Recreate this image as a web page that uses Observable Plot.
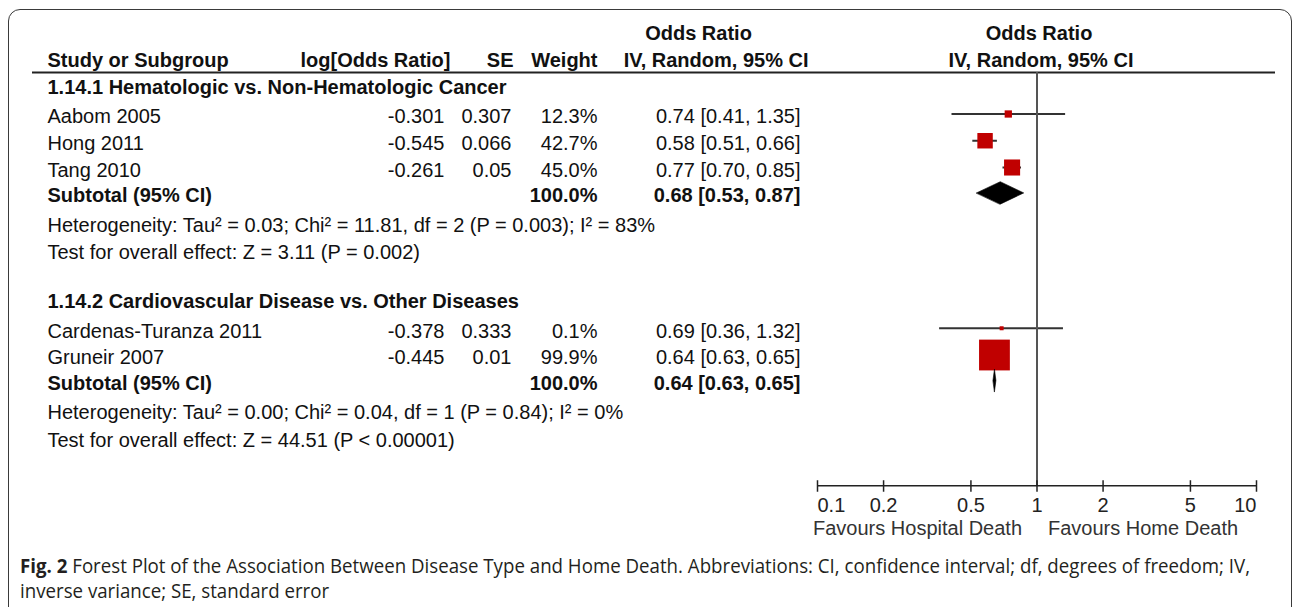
<!DOCTYPE html>
<html><head><meta charset="utf-8">
<script src="https://cdn.jsdelivr.net/npm/d3@7"></script>
<script src="https://cdn.jsdelivr.net/npm/@observablehq/plot@0.6"></script>
<style>
html,body{margin:0;padding:0;background:#fff;}
#wrap{position:relative;width:1292px;height:607px;overflow:hidden;background:#fff;}
#frame{position:absolute;left:8px;top:9px;width:1284px;height:700px;border:1.5px solid #3a3a3a;border-radius:12px;box-sizing:border-box;}
#chart{position:absolute;left:0;top:0;}
#caption{position:absolute;left:20px;top:553px;font-family:"Open Sans","DejaVu Sans",sans-serif;font-size:19.5px;line-height:25px;color:#231f20;white-space:nowrap;transform-origin:0 0;}
#caption b{font-weight:700;}
</style></head>
<body>
<div id="wrap"><div id="frame"></div><div id="chart"></div>
<div id="caption"><div id="cap1"></div><div id="cap2"></div></div></div>
<script>
// ---------- data ----------
const groupTitles = ["1.14.1 Hematologic vs. Non-Hematologic Cancer", "1.14.2 Cardiovascular Disease vs. Other Diseases"];
const studyNames = ["Aabom 2005", "Hong 2011", "Tang 2010", "Cardenas-Turanza 2011", "Gruneir 2007"];
const studyGroup = [0, 0, 0, 1, 1];
const logOR = ["-0.301", "-0.545", "-0.261", "-0.378", "-0.445"];
const seVals = ["0.307", "0.066", "0.05", "0.333", "0.01"];
const weights = [12.3, 42.7, 45.0, 0.1, 99.9];
const oddsRatio = [0.74, 0.58, 0.77, 0.69, 0.64];
const ciLow = [0.41, 0.51, 0.70, 0.36, 0.63];
const ciHigh = [1.35, 0.66, 0.85, 1.32, 0.65];
const subtotalLabel = "Subtotal (95% CI)";
const subWeight = [100.0, 100.0];
const subOR = [0.68, 0.64];
const subLow = [0.53, 0.63];
const subHigh = [0.87, 0.65];
const hetText = ["Heterogeneity: Tau² = 0.03; Chi² = 11.81, df = 2 (P = 0.003); I² = 83%",
                 "Heterogeneity: Tau² = 0.00; Chi² = 0.04, df = 1 (P = 0.84); I² = 0%"];
const testText = ["Test for overall effect: Z = 3.11 (P = 0.002)",
                  "Test for overall effect: Z = 44.51 (P < 0.00001)"];
const headerTop = ["Odds Ratio", "Odds Ratio"];
const headerCols = ["Study or Subgroup", "log[Odds Ratio]", "SE", "Weight", "IV, Random, 95% CI", "IV, Random, 95% CI"];
const axisTicks = [0.1, 0.2, 0.5, 1, 2, 5, 10];
const axisTickLabels = ["0.1", "0.2", "0.5", "1", "2", "5", "10"];
const favours = ["Favours Hospital Death", "Favours Home Death"];
const captionBold = "Fig. 2";
const captionLine1 = " Forest Plot of the Association Between Disease Type and Home Death. Abbreviations: CI, confidence interval; df, degrees of freedom; IV,";
const captionLine2 = "inverse variance; SE, standard error";

// ---------- layout (row units) ----------
const fmt2 = v => v.toFixed(2);
const studies = [], subs = [], notes = [], groups = [];
let r = -1.1;
groupTitles.forEach((t, g) => {
  groups.push({y: r, text: t});
  r += 1.1;
  studyNames.forEach((n, i) => {
    if (studyGroup[i] !== g) return;
    studies.push({y: r, name: n, lor: logOR[i], se: seVals[i], w: weights[i],
      wt: weights[i].toFixed(1) + "%", or: oddsRatio[i], lo: ciLow[i], hi: ciHigh[i],
      ort: `${fmt2(oddsRatio[i])} [${fmt2(ciLow[i])}, ${fmt2(ciHigh[i])}]`});
    r += 1;
  });
  r -= 0.05;
  subs.push({y: r, g, label: subtotalLabel, wt: subWeight[g].toFixed(1) + "%", or: subOR[g], lo: subLow[g], hi: subHigh[g],
    ort: `${fmt2(subOR[g])} [${fmt2(subLow[g])}, ${fmt2(subHigh[g])}]`});
  r += 1.1; notes.push({y: r, text: hetText[g]});
  r += 1.03; notes.push({y: r, text: testText[g]});
  r += 1.83;
});
const rowHead1 = -3.12, rowHead2 = -2.11, rowRule = -1.55;
const rowAxis = 13.9, rowTickLab = 14.63, rowFav = 15.5;
const diamondH = 0.42;
const diamonds = subs.flatMap(s => [
  {g: s.g, x: s.lo, y: s.y}, {g: s.g, x: s.or, y: s.y - diamondH},
  {g: s.g, x: s.hi, y: s.y}, {g: s.g, x: s.or, y: s.y + diamondH}]);

const FONT = "'Liberation Sans', Arial, Helvetica, sans-serif";
const FS = 20;
const ML = 32;
const L = (px) => px - ML; // offset from left frame edge
const txt = (data, opts) => Plot.text(data, {frameAnchor: "left", lineAnchor: "middle", fontSize: FS, dy: 3, fill: "#111", ...opts});

const chart = Plot.plot({
  width: 1292, height: 545,
  marginLeft: ML, marginRight: 17, marginTop: 0, marginBottom: 0,
  x: {type: "log", domain: [0.1, 10], range: [817, 1256], axis: null},
  y: {domain: [-4.243, 16.131], range: [0, 545], axis: null},
  r: {type: "linear", domain: [0, 100], range: [2.24, 17.4]},
  style: {fontFamily: FONT, fontSize: FS + "px", color: "#111", background: "transparent"},
  marks: [
    // header
    txt([headerTop[0]], {y: rowHead1, text: d => d, textAnchor: "middle", dx: L(698), fontWeight: "bold"}),
    Plot.text([headerTop[1]], {x: 1, y: rowHead1, text: d => d, textAnchor: "middle", dx: 2, dy: 3, fontSize: FS, fontWeight: "bold", fill: "#111"}),
    txt([headerCols[0]], {y: rowHead2, text: d => d, textAnchor: "start", dx: L(47), fontWeight: "bold"}),
    txt([headerCols[1]], {y: rowHead2, text: d => d, textAnchor: "end", dx: L(450), fontWeight: "bold"}),
    txt([headerCols[2]], {y: rowHead2, text: d => d, textAnchor: "end", dx: L(513), fontWeight: "bold"}),
    txt([headerCols[3]], {y: rowHead2, text: d => d, textAnchor: "end", dx: L(597), fontWeight: "bold"}),
    txt([headerCols[4]], {y: rowHead2, text: d => d, textAnchor: "end", dx: L(808), fontWeight: "bold"}),
    Plot.text([headerCols[5]], {x: 1, y: rowHead2, text: d => d, textAnchor: "middle", dx: 4, dy: 3, fontSize: FS, fontWeight: "bold", fill: "#111"}),
    Plot.ruleY([rowRule], {stroke: "#222", strokeWidth: 2}),
    // groups
    txt(groups, {y: "y", text: "text", textAnchor: "start", dx: L(47), fontWeight: "bold"}),
    // studies
    txt(studies, {y: "y", text: "name", textAnchor: "start", dx: L(47)}),
    txt(studies, {y: "y", text: "lor", textAnchor: "end", dx: L(444)}),
    txt(studies, {y: "y", text: "se", textAnchor: "end", dx: L(511)}),
    txt(studies, {y: "y", text: "wt", textAnchor: "end", dx: L(597)}),
    txt(studies, {y: "y", text: "ort", textAnchor: "end", dx: L(800)}),
    // subtotals
    txt(subs, {y: "y", text: "label", textAnchor: "start", dx: L(47), fontWeight: "bold"}),
    txt(subs, {y: "y", text: "wt", textAnchor: "end", dx: L(597), fontWeight: "bold"}),
    txt(subs, {y: "y", text: "ort", textAnchor: "end", dx: L(800), fontWeight: "bold"}),
    // notes
    txt(notes, {y: "y", text: "text", textAnchor: "start", dx: L(47)}),
    // forest
    Plot.ruleY(studies, {y: "y", x1: "lo", x2: "hi", stroke: "#333", strokeWidth: 2}),
    Plot.ruleX([1], {x: d => d, y1: rowRule, y2: rowAxis, stroke: "#555", strokeWidth: 2}),
    Plot.dot(studies, {x: "or", y: "y", r: "w", symbol: "square", fill: "#c00000"}),
    Plot.line(diamonds, {x: "x", y: "y", z: "g", fill: "black", stroke: "black", strokeWidth: 0.6, curve: "linear-closed"}),
    // axis
    Plot.ruleY([rowAxis], {x1: axisTicks[0], x2: axisTicks[axisTicks.length - 1], stroke: "#222", strokeWidth: 1.5}),
    Plot.ruleX(axisTicks, {x: d => d, y1: rowAxis - 0.19, y2: rowAxis + 0.24, stroke: "#222", strokeWidth: 1.5}),
    Plot.text(axisTicks.slice(0, 1), {x: d => d, y: rowTickLab, text: () => axisTickLabels[0], textAnchor: "start", fontSize: FS, fill: "#222"}),
    Plot.text(axisTicks.slice(1, -1), {x: d => d, y: rowTickLab, text: (d, i) => axisTickLabels[i + 1], textAnchor: "middle", fontSize: FS, fill: "#222"}),
    Plot.text(axisTicks.slice(-1), {x: d => d, y: rowTickLab, text: () => axisTickLabels[axisTickLabels.length - 1], textAnchor: "end", fontSize: FS, fill: "#222"}),
    Plot.text([favours[0]], {x: 1, y: rowFav, text: d => d, textAnchor: "end", dx: -15, fontSize: FS, fill: "#333"}),
    Plot.text([favours[1]], {x: 1, y: rowFav, text: d => d, textAnchor: "start", dx: 11, fontSize: FS, fill: "#333"})
  ]
});
document.getElementById("chart").appendChild(chart);

// caption
const c1 = document.getElementById("cap1");
const b = document.createElement("b"); b.textContent = captionBold;
c1.appendChild(b); c1.appendChild(document.createTextNode(captionLine1));
document.getElementById("cap2").textContent = captionLine2;
const cap = document.getElementById("caption");
const natural = c1.getBoundingClientRect().width;
const target = 1230;
cap.style.transform = `scaleX(${target / natural})`;
</script>
</body></html>
